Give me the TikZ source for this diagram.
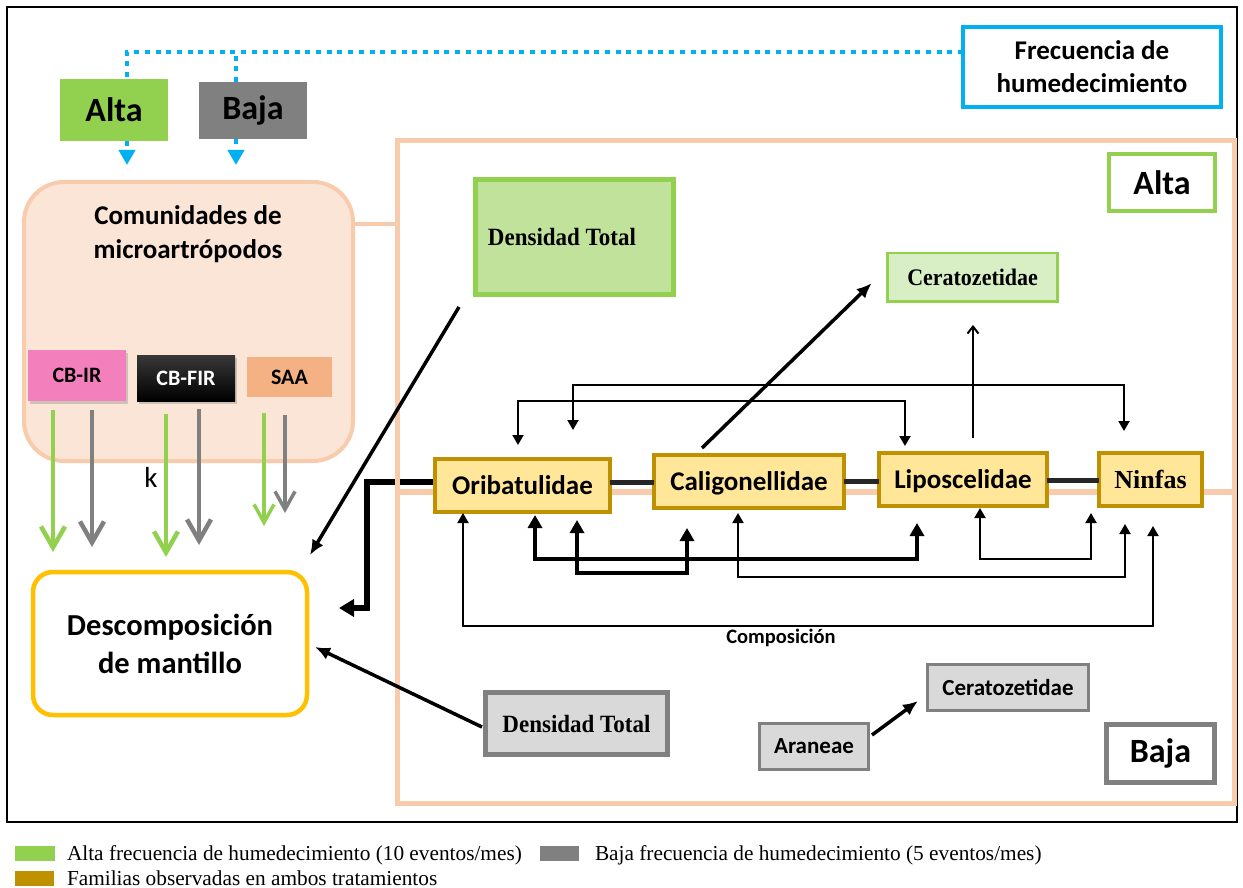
\documentclass[tikz,border=0pt]{standalone}
\usepackage{fontspec}
\setmainfont{Carlito}
\newfontfamily\tnr{Liberation Serif}
\usetikzlibrary{arrows.meta,calc,shadows}
\newcommand{\fsz}[2]{\fontsize{#1pt}{#2pt}\selectfont}
\definecolor{cyanF}{HTML}{00B0F0}
\definecolor{greenA}{HTML}{92D050}
\definecolor{grayB}{HTML}{808080}
\definecolor{grayF}{HTML}{D9D9D9}
\definecolor{peachB}{HTML}{F8CBAD}
\definecolor{peachF}{HTML}{FBE5D6}
\definecolor{goldB}{HTML}{BF9000}
\definecolor{goldF}{HTML}{FFE699}
\definecolor{descB}{HTML}{FFC000}
\definecolor{densAF}{RGB}{192,226,154}
\definecolor{ceraAF}{RGB}{216,239,198}
\definecolor{pinkC}{HTML}{F47FBD}
\definecolor{saaC}{HTML}{F4B183}
\definecolor{darkL}{HTML}{262626}
\pgfdeclarelayer{bg}
\pgfsetlayers{bg,main}
\begin{document}
\begin{tikzpicture}[x=1pt,y=-1pt,
  every node/.style={inner sep=0pt, outer sep=0pt},
  fam/.style={draw=goldB, fill=goldF, line width=4pt, minimum height=53pt,
    text height=17pt, text depth=0pt, font=\fsz{27}{32}\bfseries},
  thinc/.style={line width=2pt, {Triangle[length=10pt,width=11pt]}-{Triangle[length=10pt,width=11pt]}},
  thickc/.style={line width=4.5pt, {Triangle[length=13pt,width=14pt]}-{Triangle[length=13pt,width=14pt]}},
  famlink/.style={draw=darkL, line width=5pt},
  mainarr/.style={line width=5.5pt, -{Triangle[length=15pt,width=17pt]}},
  blkarr/.style={line width=3.5pt, -{Latex[length=15pt,width=13pt]}},
  upc/.style={line width=2pt, -{Straight Barb[length=7pt,width=11pt]}},
  dotl/.style={draw=cyanF, line width=4pt, dash pattern=on 5pt off 5.7pt},
  peachl/.style={draw=peachB, line width=4pt},
  garr/.style={draw=greenA, line width=4.5pt, -{Straight Barb[length=21pt,width=24pt]}},
  grarr/.style={draw=grayB, line width=4.5pt, -{Straight Barb[length=21pt,width=24pt]}},
  garrs/.style={draw=greenA, line width=3.5pt, -{Straight Barb[length=18pt,width=20pt]}},
  grarrs/.style={draw=grayB, line width=3.5pt, -{Straight Barb[length=18pt,width=20pt]}},
  big/.style={font=\fsz{34}{40}\bfseries},
  cbf/.style={font=\fsz{22}{26}\bfseries},
  lgd/.style={font=\tnr\fsz{21.3}{24}, anchor=base west}
]
\useasboundingbox (0,0) rectangle (1243,888);
\begin{pgfonlayer}{bg}
\fill[white] (0,0) rectangle (1243,888);
\end{pgfonlayer}

% outer frame
\draw[line width=2.5pt] (7,7) rectangle (1237,822);

% peach treatment frame
\node[draw=peachB, line width=5pt, minimum width=836.5pt, minimum height=662pt] (trat) at (815.75,472) {};
\draw[peachl, line width=6pt] ([yshift=-19.5pt]trat.west) -- ([yshift=-19.5pt]trat.east);

% top boxes
\node[fill=greenA, minimum width=108pt, minimum height=62pt, big] (alta1) at (114,110) {Alta};
\node[fill=grayB, minimum width=108pt, minimum height=57pt, big] (baja1) at (253,110.5) {Baja};
\node[draw=cyanF, fill=white, line width=3.5pt, minimum width=258pt, minimum height=80pt, align=center,
  font=\fsz{27}{33}\bfseries] (frec) at (1092,67) {Frecuencia de\\humedecimiento};

% communities box
\node[draw=peachB, fill=peachF, line width=4pt, rounded corners=40pt, minimum width=329pt, minimum height=279pt] (com) at (188.5,321.5) {};
\node[align=center, font=\fsz{27}{34}\bfseries] (comtxt) at (188,234) {Comunidades de\\microartrópodos};
\draw[peachl] ([yshift=97.5pt]com.east) -- ([yshift=97.5pt]com.east -| trat.west);

% dotted blue
\draw[dotl] ([yshift=15pt]frec.west) -| ([xshift=13pt]alta1.north);
\draw[dotl] ([xshift=-17pt]baja1.north) -- ++(0,-30);
\draw[dotl, -{Triangle[length=15pt,width=16pt]}] ([xshift=13pt]alta1.south) -- ($(com.north -| alta1.south)+(13,-17)$);
\draw[dotl, -{Triangle[length=15pt,width=16pt]}] ([xshift=-17pt]baja1.south) -- ($(com.north -| baja1.south)+(-17,-17)$);

% CB boxes
\node[fill=pinkC, drop shadow={opacity=0.35,shadow xshift=2pt,shadow yshift=-2.5pt},
  minimum width=98pt, minimum height=51pt, cbf] (cbir) at (77,375.5) {CB-IR};
\node[top color=black!78, bottom color=black, text=white, drop shadow={opacity=0.35,shadow xshift=2pt,shadow yshift=-2.5pt},
  minimum width=98pt, minimum height=46pt, cbf] (cbfir) at (186,378) {CB-FIR};
\node[fill=saaC, minimum width=85pt, minimum height=40pt, cbf] (saa) at (289.5,377) {SAA};

% decomposition
\node[draw=descB, line width=4.5pt, rounded corners=20pt, fill=white, minimum width=274pt, minimum height=143pt,
  align=center, font=\fsz{30.5}{38}\bfseries] (desc) at (170,643.5) {Descomposición\\de mantillo};

% green / gray arrows
\draw[garr] ([xshift=-24pt,yshift=-9pt]cbir.south) -- ($(desc.north)+(-117,-20)$);
\draw[grarr] ([xshift=15pt,yshift=-9pt]cbir.south) -- ($(desc.north)+(-78,-25)$);
\draw[garr] ([xshift=-20pt,yshift=-13pt]cbfir.south) -- ($(desc.north)+(-4,-15)$);
\draw[grarr] ([xshift=13pt,yshift=-8pt]cbfir.south) -- ($(desc.north)+(29,-27)$);
\draw[garrs] ([xshift=-25.5pt,yshift=-16pt]saa.south) -- ($(desc.north)+(94,-46)$);
\draw[grarrs] ([xshift=-4.5pt,yshift=-18pt]saa.south) -- ($(desc.north)+(115,-59)$);
\node[font=\fsz{29}{32}] (k) at (151,477) {k};

% Alta / Baja labels in frame
\node[draw=greenA, fill=white, line width=4pt, minimum width=106pt, minimum height=57pt, big] (alta2) at (1162,182.5) {Alta};
\node[draw=grayB, fill=white, line width=5pt, minimum width=108pt, minimum height=58pt, big] (baja2) at (1160.5,753.5) {Baja};

% Alta boxes
\node[draw=greenA, fill=densAF, line width=5pt, minimum width=198pt, minimum height=115pt,
  font=\tnr\bfseries\fsz{23}{26}] (densA) at (574,237) {\scalebox{1}[1.08]{Densidad Total}\hspace*{24pt}};
\node[draw=greenA, fill=ceraAF, line width=2.5pt, minimum width=170pt, minimum height=48.5pt,
  font=\tnr\bfseries\fsz{22}{26}] (ceraA) at (972.6,277.2) {\scalebox{1}[1.08]{Ceratozetidae}};

% families
\node[fam, minimum width=175pt] (ori) at (522.5,485.5) {Oribatulidae};
\node[fam, minimum width=190pt] (cal) at (749,481.5) {Caligonellidae};
\node[fam, minimum width=168pt] (lip) at (963,479.5) {Liposcelidae};
\node[fam, minimum width=103pt, font=\tnr\bfseries\fsz{26}{30}] (nin) at (1150.5,479.5) {Ninfas};

\draw[famlink] ([yshift=3.5pt]ori.east) -- ([yshift=3.5pt]ori.east -| cal.west);
\draw[famlink] (cal.east) -- (cal.east -| lip.west);
\draw[famlink] ([yshift=-0.5pt]lip.east) -- ([yshift=-0.5pt]lip.east -| nin.west);

\begin{pgfonlayer}{bg}
\draw[mainarr] ([yshift=3.5pt]ori.west) -- ++(-68,0) |- ([xshift=32pt,yshift=35.5pt]desc.east);
\end{pgfonlayer}

% top connectors
\draw[thinc] ([xshift=50.5pt,yshift=29pt]ori.north) -- ++(0,-45) -| ([xshift=-26.5pt,yshift=22pt]nin.north);
\draw[thinc] ([xshift=-4.5pt,yshift=14pt]ori.north) -- ++(0,-44) -| ([xshift=-58pt,yshift=7pt]lip.north);
\draw[upc] ([xshift=10pt,yshift=15pt]lip.north) -- ([xshift=0.4pt,yshift=-23.5pt]ceraA.south);
\draw[blkarr] ([xshift=-47pt,yshift=7pt]cal.north) -- ($(ceraA.west)+(-16,6)$);

% bottom connectors
\draw[thickc] ([xshift=12.5pt,yshift=-3pt]ori.south) -- ++(0,44) -| ([xshift=-46pt,yshift=-17pt]lip.south);
\draw[thickc] ([xshift=54.5pt,yshift=-8pt]ori.south) -- ++(0,53) -| ([xshift=-62pt,yshift=-20pt]cal.south);
\draw[thinc] ([xshift=-11pt,yshift=-5pt]cal.south) -- ++(0,64) -| ([xshift=-25.5pt,yshift=-18pt]nin.south);
\draw[thinc] ([xshift=17pt,yshift=-2pt]lip.south) -- ++(0,51) -| ([xshift=-59.5pt,yshift=-7pt]nin.south);
\draw[thinc] ([xshift=-59.5pt,yshift=-1pt]ori.south) -- ++(0,113) -| ([xshift=2.5pt,yshift=-20pt]nin.south);
\node[font=\fsz{20.5}{24}\bfseries] (compo) at (781,638) {Composición};

% Baja boxes
\node[draw=grayB, fill=grayF, line width=5pt, minimum width=182pt, minimum height=62pt,
  font=\tnr\bfseries\fsz{23}{26}] (densB) at (576.5,723.5) {\scalebox{1}[1.08]{Densidad Total}};
\node[draw=grayB, fill=grayF, line width=3pt, minimum width=109pt, minimum height=46pt,
  font=\fsz{23}{26}\bfseries] (ara) at (814,746.5) {Araneae};
\node[draw=grayB, fill=grayF, line width=3pt, minimum width=161pt, minimum height=46pt,
  font=\fsz{23}{26}\bfseries] (ceraB) at (1008,687.5) {Ceratozetidae};

% arrows to decomposition
\draw[blkarr] ($(densA.south)+(-115,12.5)$) -- ($(desc.north east)+(3,-17)$);
\draw[blkarr] ($(densB.west)+(-3.5,3.5)$) -- ($(desc.east)+(8,3.5)$);
\draw[blkarr] ($(ara.east)+(3.5,-11.5)$) -- ($(ceraB.west)+(-9.5,13.5)$);

% legend
\node[fill=greenA, minimum width=40pt, minimum height=15pt] (lg1) at (35,853.5) {};
\node[lgd] (lt1) at (67,860) {Alta frecuencia de humedecimiento (10 eventos/mes)};
\node[fill=grayB, minimum width=39pt, minimum height=15pt] (lg2) at (559.5,853.5) {};
\node[lgd] (lt2) at (595,860) {Baja frecuencia de humedecimiento (5 eventos/mes)};
\node[fill=goldB, minimum width=39pt, minimum height=15pt] (lg3) at (34.5,878.5) {};
\node[lgd] (lt3) at (67,885) {Familias observadas en ambos tratamientos};
\end{tikzpicture}
\end{document}
